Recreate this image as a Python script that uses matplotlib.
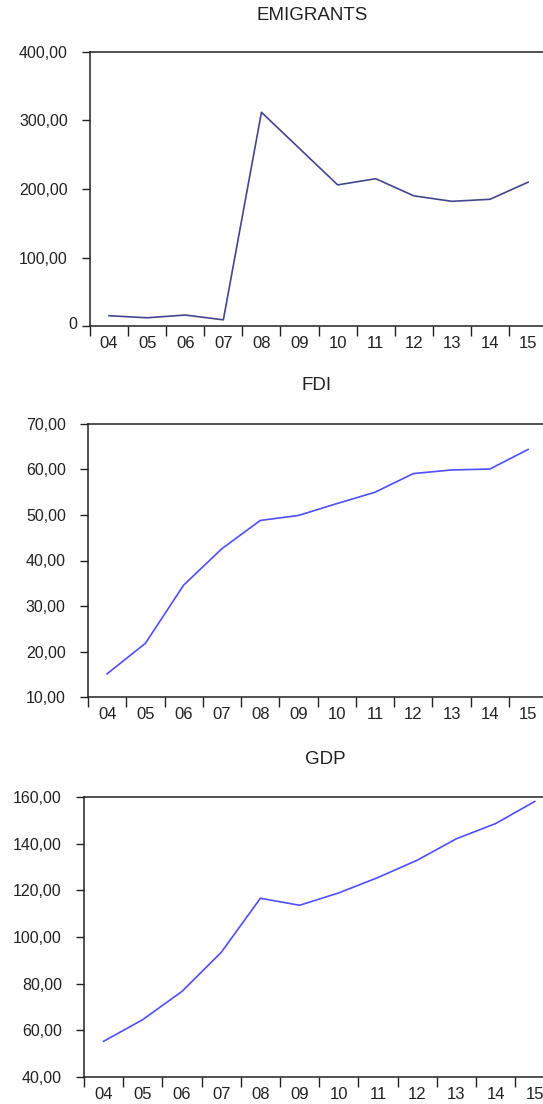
import matplotlib
matplotlib.use("Agg")
import matplotlib.pyplot as plt
from matplotlib.ticker import FuncFormatter, FixedLocator
from matplotlib.transforms import ScaledTranslation

plt.rcParams['font.family'] = ['Liberation Sans', 'DejaVu Sans']

years = ["04", "05", "06", "07", "08", "09", "10", "11", "12", "13", "14", "15"]
emigrants = [15, 12, 16, 9, 312, 259, 206, 215, 190, 182, 185, 210]
fdi = [15.1, 21.8, 34.6, 42.6, 48.8, 49.9, 52.5, 55.0, 59.1, 59.9, 60.1, 64.4]
gdp = [55.3, 64.6, 76.7, 93.4, 116.6, 113.6, 118.9, 125.5, 132.9, 142.1, 148.6, 158.1]

W, H = 543, 1104
fig = plt.figure(figsize=(W / 100, H / 100), dpi=100)

def fmt(v, pos):
    if abs(v) < 1e-9:
        return "0"
    return f"{v:.2f}".replace(".", ",")

panels = [
    # title, data, ylim, yticks, left, top, bottom, xright, color, title_x, title_y
    ("EMIGRANTS", emigrants, (0, 400), [0, 100, 200, 300, 400], 90, 52, 326, 11.39, "#45458f", 312, 16),
    ("FDI", fdi, (10, 70), [10, 20, 30, 40, 50, 60, 70], 88, 424, 697, 11.39, "#4f4fff", 317, 386),
    ("GDP", gdp, (40, 160), [40, 60, 80, 100, 120, 140, 160], 84, 797, 1077, 11.21, "#4f4fff", 325, 760),
]

for title, data, ylim, yticks, left, top, bottom, xr, color, tx, ty in panels:
    ax = fig.add_axes([left / W, 1 - bottom / H, (W - left) / W, (bottom - top) / H])
    x = list(range(len(years)))
    ax.plot(x, data, color=color, lw=1.2)
    ax.set_xlim(-0.5, xr)
    ax.set_ylim(*ylim)
    ax.spines['right'].set_visible(False)
    for s in ['left', 'top', 'bottom']:
        ax.spines[s].set_linewidth(1.1)
        ax.spines[s].set_color("#222222")
    ax.yaxis.set_major_locator(FixedLocator(yticks))
    ax.yaxis.set_major_formatter(FuncFormatter(fmt))
    ax.tick_params(axis='y', direction='out', length=6, width=1.0, pad=10,
                   labelsize=11.5, colors="#222222")
    ax.xaxis.set_major_locator(FixedLocator([i - 0.5 for i in range(len(years) + 1)]))
    ax.xaxis.set_major_formatter(FuncFormatter(lambda v, p: ""))
    ax.xaxis.set_minor_locator(FixedLocator(x))
    ax.set_xticklabels(years, minor=True)
    ax.tick_params(axis='x', which='major', direction='out', length=7, width=1.0, colors="#222222")
    ax.tick_params(axis='x', which='minor', length=0, pad=7, labelsize=12, labelcolor="#222222")
    fig.canvas.draw()
    for lab in ax.get_yticklabels():
        if lab.get_text() == "0":
            lab.set_transform(lab.get_transform() + ScaledTranslation(9 / 100, 3 / 100, fig.dpi_scale_trans))
    fig.text(tx / W, 1 - ty / H, title, ha='center', va='center', fontsize=13.5, color="#222222")

fig.savefig("out.png", dpi=100, facecolor="white")
